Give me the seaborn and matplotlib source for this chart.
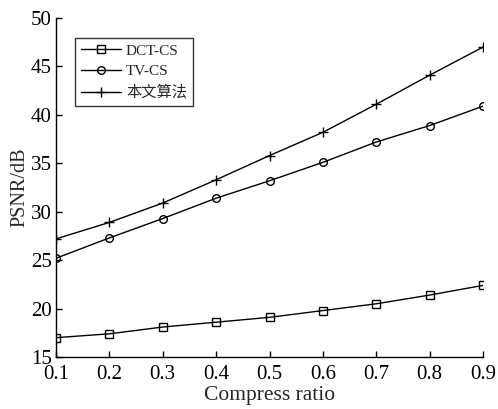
import matplotlib
matplotlib.use("Agg")
import matplotlib.pyplot as plt
import seaborn as sns
import pandas as pd

ratios = [0.1, 0.2, 0.3, 0.4, 0.5, 0.6, 0.7, 0.8, 0.9]
dct_cs = [17.0, 17.4, 18.1, 18.6, 19.1, 19.8, 20.5, 21.4, 22.4]
tv_cs = [25.2, 27.3, 29.3, 31.4, 33.2, 35.1, 37.2, 38.9, 40.9]
proposed = [27.2, 28.9, 30.9, 33.3, 35.8, 38.2, 41.1, 44.1, 47.0]
series_names = ["DCT-CS", "TV-CS", "本文算法"]
xticks = [0.1, 0.2, 0.3, 0.4, 0.5, 0.6, 0.7, 0.8, 0.9]
yticks = [15, 20, 25, 30, 35, 40, 45, 50]

sns.set_style("ticks")
plt.rcParams['font.family'] = ['Liberation Serif', 'Noto Sans CJK SC']

df = pd.DataFrame({
    "ratio": ratios * 3,
    "psnr": dct_cs + tv_cs + proposed,
    "method": [series_names[0]] * 9 + [series_names[1]] * 9 + [series_names[2]] * 9,
})

fig = plt.figure(figsize=(4.98, 4.09), dpi=100)
ax = fig.add_axes([0.1125, 0.127, 0.8575, 0.829])

markers = {"DCT-CS": "s", "TV-CS": "o", "本文算法": "+"}
msizes = {"DCT-CS": 5.5, "TV-CS": 5.5, "本文算法": 7}
for name in series_names:
    sub = df[df["method"] == name]
    sns.lineplot(data=sub, x="ratio", y="psnr", ax=ax, color="black", lw=1.0,
                 marker=markers[name], markersize=msizes[name],
                 markerfacecolor="none", markeredgecolor="black", markeredgewidth=1.0,
                 label=name)

ax.set_xlim(0.1, 0.9)
ax.set_ylim(15, 50)
ax.set_xticks(xticks)
ax.set_xticklabels([f"{v:.1f}" for v in xticks])
ax.set_yticks(yticks)
ax.tick_params(direction="in", length=4, width=1, labelsize=15, colors="black")
ax.tick_params(axis="x", pad=6)
ax.tick_params(axis="y", pad=3)
for s in ["top", "right"]:
    ax.spines[s].set_visible(False)
for s in ["left", "bottom"]:
    ax.spines[s].set_color("black")
    ax.spines[s].set_linewidth(1.0)
ax.set_xlabel("Compress ratio", fontsize=15.5, labelpad=1)
ax.set_ylabel("PSNR/dB", fontsize=14.5, labelpad=1)

leg = ax.legend(loc="upper left", bbox_to_anchor=(0.044, 0.941), frameon=True,
                fancybox=False, edgecolor="black", fontsize=11, handlelength=2.6,
                borderpad=0.4, labelspacing=0.45, handletextpad=0.35, borderaxespad=0)
leg.get_frame().set_linewidth(1.0)
for t in leg.get_texts():
    t.set_family(['Liberation Serif', 'Noto Sans CJK SC'])

fig.savefig("out.png", dpi=100)
